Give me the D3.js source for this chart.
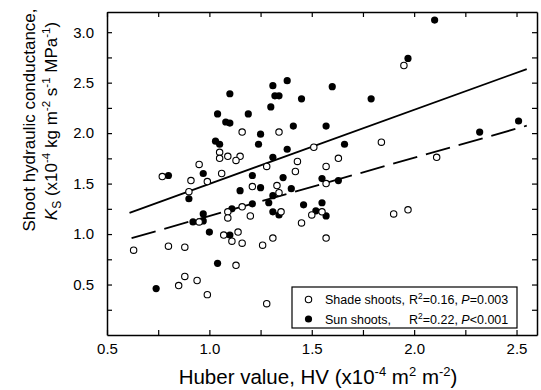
<!doctype html>
<html lang="en">
<head>
  <meta charset="utf-8">
  <title>Shoot hydraulic conductance vs Huber value</title>
  <script type="text/javascript" src="https://cdnjs.cloudflare.com/ajax/libs/d3/7.8.5/d3.min.js"></script>
  <style>
    body { margin: 0; background: #fff; }
    text { font-family: Arial, "Liberation Sans", sans-serif; }
  </style>
</head>
<body>
  <svg width="541" height="390" id="svg"></svg>
</body>
<script type="text/javascript">

  // series (HV, Ks)
  var shadeHV = [1.95, 1.16, 1.34, 1.84, 1.51, 1.05, 1.05, 1.09, 1.15, 1.13, 2.11, 1.63, 1.43,
    0.95, 1.28, 1.57, 1.42, 1.06, 0.77, 0.91, 0.99, 1.21, 1.33, 1.57, 1.34, 0.90, 1.16,
    1.09, 1.09, 1.20, 1.35, 1.50, 1.55, 0.95, 1.45, 1.90, 1.97, 1.14, 1.07, 1.11, 1.16,
    1.26, 1.31, 1.57, 0.63, 0.80, 0.88, 1.13, 0.88, 0.94, 0.85, 0.99, 1.28];
  var shadeKs = [2.67, 2.01, 2.01, 1.91, 1.86, 1.81, 1.75, 1.77, 1.77, 1.73, 1.76, 1.75, 1.72,
    1.69, 1.67, 1.67, 1.62, 1.60, 1.57, 1.53, 1.52, 1.47, 1.48, 1.50, 1.41, 1.42, 1.27,
    1.22, 1.16, 1.18, 1.22, 1.19, 1.22, 1.12, 1.11, 1.20, 1.24, 1.02, 0.99, 0.93, 0.91,
    0.89, 0.96, 0.96, 0.84, 0.88, 0.87, 0.69, 0.58, 0.54, 0.49, 0.40, 0.31];

  var sunHV = [2.10, 1.97, 1.38, 1.31, 1.60, 1.10, 1.32, 1.34, 1.45, 1.79, 1.30, 1.19, 1.04,
    1.08, 1.10, 1.41, 1.57, 2.51, 2.32, 1.25, 1.03, 1.05, 1.24, 1.38, 1.66, 1.31, 0.97,
    0.80, 1.21, 1.36, 1.55, 1.63, 1.40, 1.25, 1.15, 0.90, 1.31, 1.29, 1.21, 1.11, 1.46,
    1.55, 1.52, 1.31, 1.34, 1.57, 0.97, 0.97, 0.92, 1.00, 1.10, 1.04, 0.74];
  var sunKs = [3.12, 2.74, 2.52, 2.47, 2.46, 2.39, 2.37, 2.37, 2.34, 2.34, 2.26, 2.19, 2.19,
    2.11, 2.10, 2.07, 2.07, 2.12, 2.01, 1.99, 1.92, 1.89, 1.89, 1.84, 1.89, 1.76, 1.60,
    1.58, 1.58, 1.56, 1.55, 1.53, 1.45, 1.46, 1.43, 1.35, 1.38, 1.31, 1.30, 1.25, 1.29,
    1.31, 1.23, 1.22, 1.19, 1.18, 1.20, 1.13, 1.12, 1.02, 0.99, 0.71, 0.46];

  // regression lines: [from, to, slope, intercept]
  var sunFit = [0.61, 2.55, 0.734, 0.763];
  var shadeFit = [0.62, 2.55, 0.577, 0.602];

  var seriesNames = ["Shade shoots,", "Sun shoots,"];
  var seriesStats = [["0.16", "=0.003"], ["0.22", "<0.001"]];

  var xTickLabels = [0.5, 1.0, 1.5, 2.0, 2.5];
  var yTickLabels = [0.5, 1.0, 1.5, 2.0, 2.5, 3.0];

  var plotL = 107, plotR = 537, plotT = 12, plotB = 335;

  var x = d3.scaleLinear().domain([0.5, 2.6]).range([plotL, plotR]);
  var y = d3.scaleLinear().domain([0, 3.2]).range([plotB, plotT]);

  var svg = d3.select('#svg');

  var xMinor = d3.range(0.5, 2.51, 0.25);
  var yMinor = d3.range(0.25, 3.01, 0.25);

  function xFmt(d) {
    return xTickLabels.some(function(v) { return Math.abs(v - d) < 1e-6; }) ? d3.format('.1f')(d) : '';
  }
  function yFmt(d) {
    return yTickLabels.some(function(v) { return Math.abs(v - d) < 1e-6; }) ? d3.format('.1f')(d) : '';
  }

  var gx = svg.append('g')
    .attr('transform', 'translate(0,' + plotB + ')')
    .call(d3.axisBottom(x).tickValues(xMinor).tickFormat(xFmt).tickSize(-5).tickSizeOuter(0).tickPadding(8));

  var gxTop = svg.append('g')
    .attr('transform', 'translate(0,' + plotT + ')')
    .call(d3.axisTop(x).tickValues(xMinor).tickFormat('').tickSize(-5).tickSizeOuter(0));

  var gy = svg.append('g')
    .attr('transform', 'translate(' + plotL + ',0)')
    .call(d3.axisLeft(y).tickValues(yMinor).tickFormat(yFmt).tickSize(-5).tickSizeOuter(0).tickPadding(13));

  var gyRight = svg.append('g')
    .attr('transform', 'translate(' + plotR + ',0)')
    .call(d3.axisRight(y).tickValues(yMinor).tickFormat('').tickSize(-5).tickSizeOuter(0));

  [gx, gxTop, gy, gyRight].forEach(function(g) {
    g.attr('font-family', 'Arial, "Liberation Sans", sans-serif').attr('font-size', 15);
    g.selectAll('path').attr('stroke', '#000').attr('stroke-width', 1.5);
    g.selectAll('line').attr('stroke', '#000').attr('stroke-width', 1.2);
    g.selectAll('text').attr('fill', '#000');
  });

  // regression lines
  function fitLine(f) {
    return [[f[0], f[3] + f[2] * f[0]], [f[1], f[3] + f[2] * f[1]]];
  }
  var line = d3.line().x(function(d) { return x(d[0]); }).y(function(d) { return y(d[1]); });

  svg.append('path')
    .attr('d', line(fitLine(sunFit)))
    .attr('fill', 'none').attr('stroke', '#000').attr('stroke-width', 1.8);

  svg.append('path')
    .attr('d', line(fitLine(shadeFit)))
    .attr('fill', 'none').attr('stroke', '#000').attr('stroke-width', 1.8)
    .attr('stroke-dasharray', '25,9');

  // points
  svg.append('g').selectAll('circle')
    .data(d3.range(sunHV.length))
    .enter().append('circle')
    .attr('cx', function(i) { return x(sunHV[i]); })
    .attr('cy', function(i) { return y(sunKs[i]); })
    .attr('r', 3.6)
    .attr('fill', '#000');

  svg.append('g').selectAll('circle')
    .data(d3.range(shadeHV.length))
    .enter().append('circle')
    .attr('cx', function(i) { return x(shadeHV[i]); })
    .attr('cy', function(i) { return y(shadeKs[i]); })
    .attr('r', 3.2)
    .attr('fill', '#fff')
    .attr('stroke', '#000')
    .attr('stroke-width', 1.1);

  // legend
  var lg = svg.append('g').attr('transform', 'translate(292,287)');
  lg.append('rect')
    .attr('width', 225).attr('height', 41)
    .attr('fill', '#fff').attr('stroke', '#000').attr('stroke-width', 1.2);

  seriesNames.forEach(function(name, i) {
    var cy = 12.5 + i * 19.5;
    lg.append('circle')
      .attr('cx', 16.5).attr('cy', cy)
      .attr('r', i === 0 ? 3.2 : 3.6)
      .attr('fill', i === 0 ? '#fff' : '#000')
      .attr('stroke', i === 0 ? '#000' : 'none')
      .attr('stroke-width', 1.1);
    lg.append('text')
      .attr('x', 33).attr('y', cy + 4.5)
      .attr('font-size', 12.5)
      .text(name);
    var t = lg.append('text')
      .attr('x', 117).attr('y', cy + 4.5)
      .attr('font-size', 12.5);
    t.append('tspan').text('R');
    t.append('tspan').attr('font-size', 8.5).attr('baseline-shift', '5').text('2');
    t.append('tspan').text('=' + seriesStats[i][0] + ', ');
    t.append('tspan').attr('font-style', 'italic').text('P');
    t.append('tspan').text(seriesStats[i][1]);
  });

  // axis titles
  var xt = svg.append('text')
    .attr('x', 318).attr('y', 384)
    .attr('text-anchor', 'middle')
    .attr('font-size', 20.5);
  xt.append('tspan').text('Huber value, HV (x10');
  xt.append('tspan').attr('font-size', 13).attr('baseline-shift', '8').text('-4');
  xt.append('tspan').text('  m');
  xt.append('tspan').attr('font-size', 13).attr('baseline-shift', '8').text('2');
  xt.append('tspan').text(' m');
  xt.append('tspan').attr('font-size', 13).attr('baseline-shift', '8').text('-2');
  xt.append('tspan').text(')');

  svg.append('text')
    .attr('transform', 'translate(35,120) rotate(-90)')
    .attr('text-anchor', 'middle')
    .attr('font-size', 17)
    .text('Shoot hydraulic conductance,');

  var yt = svg.append('text')
    .attr('transform', 'translate(57,121) rotate(-90)')
    .attr('text-anchor', 'middle')
    .attr('font-size', 17);
  yt.append('tspan').attr('font-style', 'italic').text('K');
  yt.append('tspan').attr('font-size', 12).attr('baseline-shift', '-4').text('S');
  yt.append('tspan').text(' (x10');
  yt.append('tspan').attr('font-size', 11.5).attr('baseline-shift', '7').text('-4');
  yt.append('tspan').text(' kg m');
  yt.append('tspan').attr('font-size', 11.5).attr('baseline-shift', '7').text('-2');
  yt.append('tspan').text(' s');
  yt.append('tspan').attr('font-size', 11.5).attr('baseline-shift', '7').text('-1');
  yt.append('tspan').text(' MPa');
  yt.append('tspan').attr('font-size', 11.5).attr('baseline-shift', '7').text('-1');
  yt.append('tspan').text(')');

</script>
</html>
